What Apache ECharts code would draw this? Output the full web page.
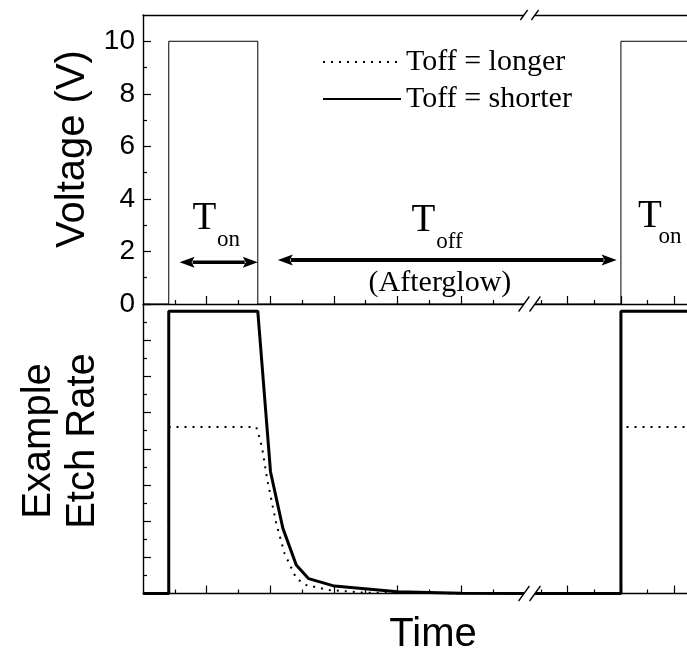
<!DOCTYPE html>
<html><head><meta charset="utf-8">
<script src="https://cdn.jsdelivr.net/npm/echarts@6/dist/echarts.min.js"></script>
<style>html,body{margin:0;padding:0;background:#fff}#c{width:687px;height:657px}</style>
</head><body><div id="c"></div>
<script>
// ---------------- data ----------------
const voltageTicks = [0, 2, 4, 6, 8, 10];
const voltageMinorTicks = [1, 3, 5, 7, 9];
const etchMajorTicks = [0, 2, 4, 6, 8, 10, 12, 14, 16];
const etchMinorTicks = [1, 3, 5, 7, 9, 11, 13, 15];
const timeMajorLeft = [2, 4, 6, 8, 10];
const timeMinorLeft = [1, 3, 5, 7, 9, 11];
const timeMajorRight = [14, 16, 18];
const timeMinorRight = [13, 15, 17];
const timeRangeLeft = [0, 12.14];
const timeRangeRight = [12.55, 18.48];
const voltageRange = [0, 11];
const etchRange = [0, 16];

const voltageLeft = [[0,0],[0.81,0],[0.81,10],[3.61,10],[3.61,0],[12.14,0]];
const voltageRight = [[12.55,0],[16,0],[16,10],[18.48,10]];
const shorterLeft = [[0,0],[0.81,0],[0.81,15.6],[3.61,15.6],[4.01,6.73],[4.40,3.6],[4.82,1.58],[5.21,0.82],[6.02,0.41],[8.01,0.1],[10,0.02],[12.14,0]];
const shorterRight = [[12.55,0],[16,0],[16,15.6],[18.48,15.6]];
const longerLeft = [[0,0],[0.81,0],[0.81,9.2],[3.56,9.2],[3.64,8.76],[3.74,8.11],[3.91,6.27],[4.05,5.07],[4.19,3.88],[4.45,2.22],[4.82,0.84],[5.13,0.47],[5.86,0.19],[7,0.04],[12.14,0]];
const longerRight = [[12.55,0],[16,0],[16,9.2],[18.48,9.2]];

const seriesNames = ['Toff = longer', 'Toff = shorter'];

// annotations in data coordinates (panel: 'L' top-left, 'R' top-right)
const arrowOn = [['L', 1.15, 1.59], ['L', 3.61, 1.59]];
const arrowOff = [['L', 4.24, 1.67], ['R', 15.84, 1.67]];
const annoTexts = [
  ['T', 'L', 1.93, 3.24, 39],
  ['on', 'L', 2.69, 2.44, 23],
  ['T', 'L', 8.82, 3.16, 39],
  ['off', 'L', 9.64, 2.38, 23],
  ['(Afterglow)', 'L', 9.34, 0.79, 30],
  ['T', 'R', 17.09, 3.31, 39],
  ['on', 'R', 17.84, 2.57, 23]
];

// ---------------- styles ----------------
const SANS = '"Liberation Sans", Arial, sans-serif';
const SERIF = '"Liberation Serif", "Times New Roman", serif';
const AXC = '#000';

function xAx(grid, range, ticks, len, showLine, pos) {
  return {
    type: 'value', gridIndex: grid, min: range[0], max: range[1], position: pos || 'bottom',
    axisLine: {show: showLine, onZero: false, lineStyle: {color: AXC, width: 1.4}},
    axisTick: ticks ? {show: true, inside: true, length: len, customValues: ticks, lineStyle: {color: AXC, width: 1.2}} : {show: false},
    axisLabel: {show: false}, splitLine: {show: false}
  };
}
function yAx(grid, range, ticks, len, showLine, labels) {
  return {
    type: 'value', gridIndex: grid, min: range[0], max: range[1], position: 'left', show: showLine !== null,
    axisLine: {show: !!showLine, onZero: false, lineStyle: {color: AXC, width: 1.4}},
    axisTick: ticks ? {show: true, inside: true, length: len, customValues: ticks, lineStyle: {color: AXC, width: 1.2}} : {show: false},
    axisLabel: labels ? {show: true, customValues: labels, margin: 8, color: '#000', fontSize: 28, fontFamily: SANS} : {show: false},
    splitLine: {show: false}
  };
}

const option = {
  animation: false,
  backgroundColor: '#fff',
  grid: [
    {left: 143, top: 15, width: 386, height: 289},
    {left: 529, top: 15, right: 0, height: 289},
    {left: 143, top: 304, width: 386, height: 289.5},
    {left: 529, top: 304, right: 0, height: 289.5}
  ],
  xAxis: [
    xAx(0, timeRangeLeft, timeMajorLeft, 8, true),
    xAx(0, timeRangeLeft, timeMinorLeft, 4, false),
    xAx(0, timeRangeLeft, null, 0, true, 'top'),
    xAx(1, timeRangeRight, timeMajorRight, 8, true),
    xAx(1, timeRangeRight, timeMinorRight, 4, false),
    xAx(1, timeRangeRight, null, 0, true, 'top'),
    xAx(2, timeRangeLeft, timeMajorLeft, 8, true),
    xAx(2, timeRangeLeft, timeMinorLeft, 4, false),
    xAx(3, timeRangeRight, timeMajorRight, 8, true),
    xAx(3, timeRangeRight, timeMinorRight, 4, false)
  ],
  yAxis: [
    yAx(0, voltageRange, voltageTicks, 8, true, voltageTicks),
    yAx(0, voltageRange, voltageMinorTicks, 4, false),
    yAx(1, voltageRange, null, 0, null),
    yAx(2, etchRange, etchMajorTicks, 8, true),
    yAx(2, etchRange, etchMinorTicks, 4, false),
    yAx(3, etchRange, null, 0, null)
  ],
  legend: {
    data: seriesNames, orient: 'vertical', left: 317, top: 42, itemWidth: 78, itemHeight: 14, itemGap: 7,
    selectedMode: false,
    itemStyle: {opacity: 0},
    textStyle: {fontFamily: SERIF, fontSize: 30, color: '#000', lineHeight: 30}
  },
  series: [
    {type: 'line', name: 'voltage', data: voltageLeft, xAxisIndex: 0, yAxisIndex: 0, symbol: 'none', clip: false, lineStyle: {color: '#000', width: 1}},
    {type: 'line', name: 'voltage', data: voltageRight, xAxisIndex: 3, yAxisIndex: 2, symbol: 'none', clip: false, lineStyle: {color: '#000', width: 1}},
    {type: 'line', name: seriesNames[0], data: longerLeft, xAxisIndex: 6, yAxisIndex: 3, symbol: 'none', clip: false, itemStyle: {color: '#000'}, lineStyle: {color: '#000', width: 2, type: [2, 6]}},
    {type: 'line', name: seriesNames[0], data: longerRight, xAxisIndex: 8, yAxisIndex: 5, symbol: 'none', clip: false, itemStyle: {color: '#000'}, lineStyle: {color: '#000', width: 2, type: [2, 6]}},
    {type: 'line', name: seriesNames[1], data: shorterLeft, xAxisIndex: 6, yAxisIndex: 3, symbol: 'none', clip: false, itemStyle: {color: '#000'}, lineStyle: {color: '#000', width: 3}},
    {type: 'line', name: seriesNames[1], data: shorterRight, xAxisIndex: 8, yAxisIndex: 5, symbol: 'none', clip: false, itemStyle: {color: '#000'}, lineStyle: {color: '#000', width: 3}}
  ]
};

const chart = echarts.init(document.getElementById('c'), null, {renderer: 'canvas'});
chart.setOption(option);

const panelAxes = {L: [0, 0], R: [3, 2]};
function px(panel, x, y) {
  const a = panelAxes[panel];
  return chart.convertToPixel({xAxisIndex: a[0], yAxisIndex: a[1]}, [x, y]);
}
const G = [];
function arrow(p1, p2, shaft, headLen, headHalf) {
  const y = (p1[1] + p2[1]) / 2;
  G.push({type: 'line', z: 100, shape: {x1: p1[0] + headLen - 2, y1: y, x2: p2[0] - headLen + 2, y2: y}, style: {stroke: '#000', lineWidth: shaft}});
  G.push({type: 'polygon', z: 100, shape: {points: [[p1[0], y], [p1[0] + headLen, y - headHalf], [p1[0] + headLen - 3, y], [p1[0] + headLen, y + headHalf]]}, style: {fill: '#000'}});
  G.push({type: 'polygon', z: 100, shape: {points: [[p2[0], y], [p2[0] - headLen, y - headHalf], [p2[0] - headLen + 3, y], [p2[0] - headLen, y + headHalf]]}, style: {fill: '#000'}});
}
arrow(px(arrowOn[0][0], arrowOn[0][1], arrowOn[0][2]), px(arrowOn[1][0], arrowOn[1][1], arrowOn[1][2]), 3.5, 15, 5.5);
arrow(px(arrowOff[0][0], arrowOff[0][1], arrowOff[0][2]), px(arrowOff[1][0], arrowOff[1][1], arrowOff[1][2]), 4, 15, 5.5);

annoTexts.forEach(function (t) {
  const p = px(t[1], t[2], t[3]);
  G.push({type: 'text', z: 100, x: p[0], y: p[1], style: {text: t[0], fill: '#000', font: t[4] + 'px ' + SERIF, align: 'center', verticalAlign: 'middle'}});
});

// axis break marks at the boundary between left and right panels
function breakMark(p, h) {
  const cx = p[0] + 0.5, cy = p[1], dx = h * 0.36;
  G.push({type: 'rect', z: 101, shape: {x: cx - 5.5, y: cy - 2.5, width: 11, height: 5}, style: {fill: '#fff'}});
  [-5.5, 5.5].forEach(function (o) {
    G.push({type: 'line', z: 102, shape: {x1: cx + o - dx, y1: cy + h / 2, x2: cx + o + dx, y2: cy - h / 2}, style: {stroke: '#000', lineWidth: 1.3}});
  });
}
breakMark(px('L', timeRangeLeft[1], voltageRange[1]), 10);
breakMark(px('L', timeRangeLeft[1], voltageRange[0]), 15);
breakMark(chart.convertToPixel({xAxisIndex: 6, yAxisIndex: 3}, [timeRangeLeft[1], etchRange[0]]), 15);

// axis titles
G.push({type: 'text', z: 100, x: 73, y: 149, rotation: Math.PI / 2, style: {text: 'Voltage (V)', fill: '#000', font: '40px ' + SANS, align: 'center', verticalAlign: 'middle'}});
G.push({type: 'text', z: 100, x: 39, y: 441, rotation: Math.PI / 2, style: {text: 'Example', fill: '#000', font: '40px ' + SANS, align: 'center', verticalAlign: 'middle'}});
G.push({type: 'text', z: 100, x: 83, y: 441, rotation: Math.PI / 2, style: {text: 'Etch Rate', fill: '#000', font: '40px ' + SANS, align: 'center', verticalAlign: 'middle'}});
G.push({type: 'text', z: 100, x: 433, y: 635, style: {text: 'Time', fill: '#000', font: '40px ' + SANS, align: 'center', verticalAlign: 'middle'}});

chart.setOption({graphic: {elements: G}});
</script>
</body></html>
